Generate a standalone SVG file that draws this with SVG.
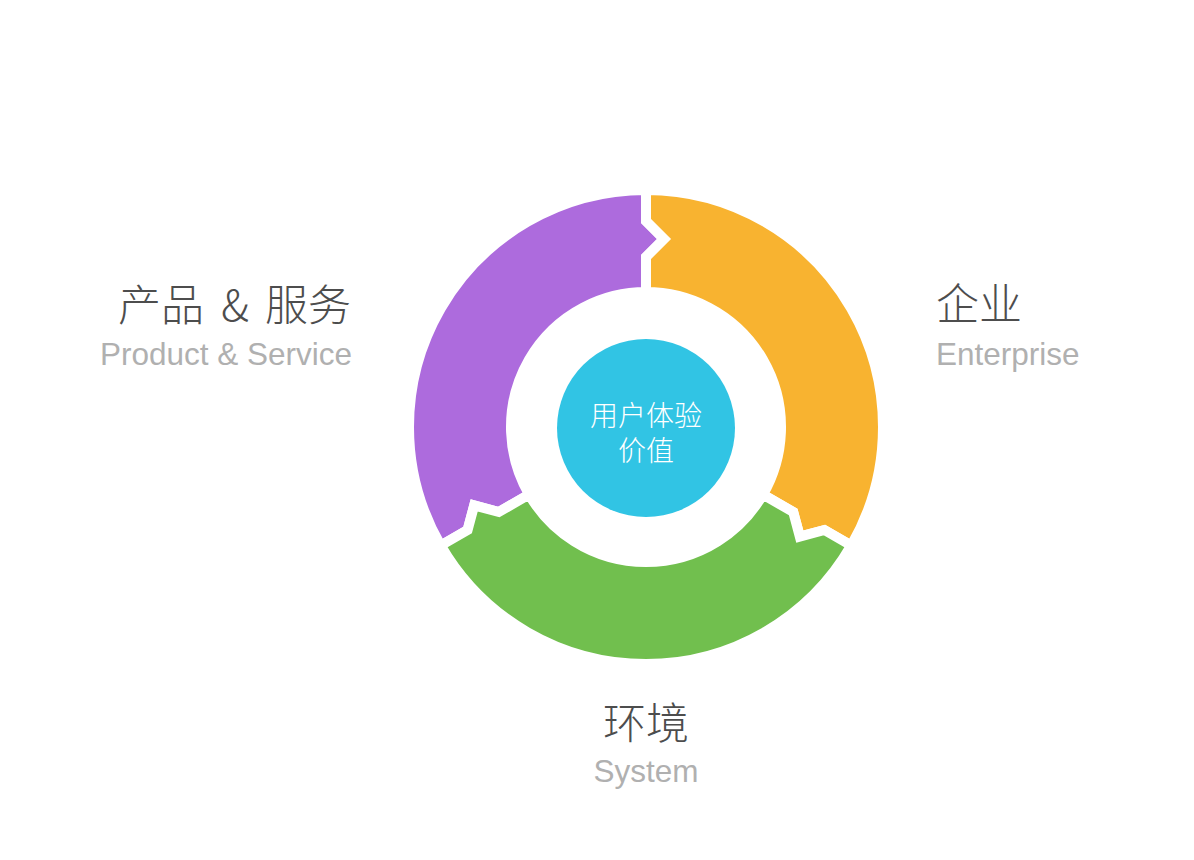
<svg xmlns="http://www.w3.org/2000/svg" width="1194" height="860" viewBox="0 0 1194 860">
<style>
.seg{stroke:#ffffff;stroke-width:10;stroke-linejoin:miter}
.cn{font-family:"Noto Sans CJK SC","Liberation Sans",sans-serif;font-weight:300;fill:#4d4d4d;font-size:43px}
.en{font-family:"Liberation Sans",Arial,sans-serif;fill:#b0b0b0;font-size:31.5px}
.ctr{font-family:"Noto Sans CJK SC","Liberation Sans",sans-serif;font-weight:300;fill:#ffffff;font-size:28px;text-anchor:middle}
</style>
<rect width="1194" height="860" fill="#ffffff"/>
<g id="ring">
<g id="seg-product">
<path class="seg" fill="#AD6BDD" d="M 440.75 545.5 A 237 237 0 0 1 646 190 L 646 221 L 664 239 L 646 257 L 646 292 A 135 135 0 0 0 529.09 494.5 L 498.78 512 L 474.19 505.41 L 467.6 530 Z"/>
</g>
<g id="seg-enterprise">
<path class="seg" fill="#F8B330" d="M 646 190 A 237 237 0 0 1 851.25 545.5 L 824.4 530 L 799.81 536.59 L 793.22 512 L 762.91 494.5 A 135 135 0 0 0 646 292 L 646 257 L 664 239 L 646 221 Z"/>
</g>
<g id="seg-system">
<path class="seg" fill="#71BF4E" d="M 851.25 545.5 A 237 237 0 0 1 440.75 545.5 L 467.6 530 L 474.19 505.41 L 498.78 512 L 529.09 494.5 A 135 135 0 0 0 762.91 494.5 L 793.22 512 L 799.81 536.59 L 824.4 530 Z"/>
</g>
</g>
<g id="center">
<circle cx="646" cy="428" r="89" fill="#31C4E4"/>
<text class="ctr" x="646" y="426">用户体验</text>
<text class="ctr" x="646" y="461">价值</text>
</g>
<g id="label-product">
<text class="cn"><tspan x="118" y="321">产品 </tspan><tspan x="221" y="321">&amp; </tspan><tspan x="265" y="321">服务</tspan></text>
<text class="en" x="352" y="365" text-anchor="end">Product &amp; Service</text>
</g>
<g id="label-enterprise">
<text class="cn" x="936" y="320">企业</text>
<text class="en" x="936" y="365">Enterprise</text>
</g>
<g id="label-system">
<text class="cn" x="646" y="739" text-anchor="middle">环境</text>
<text class="en" x="646" y="782" text-anchor="middle">System</text>
</g>
</svg>
